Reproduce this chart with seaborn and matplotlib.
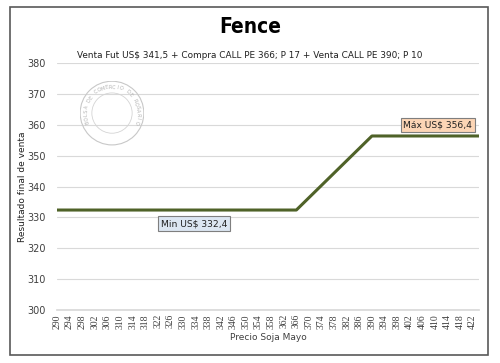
import numpy as np
import pandas as pd
import matplotlib
matplotlib.use("Agg")
import matplotlib.pyplot as plt
import seaborn as sns

sns.set_theme(style="white")
plt.rcParams['font.family'] = ['DejaVu Sans']

# data
precio = list(range(290, 426, 2))
piso = 332.4
techo = 356.4
strike_compra = 366
strike_venta = 390
resultado = [min(max(piso, piso + (p - strike_compra)), techo) for p in precio]
df = pd.DataFrame({"Precio": precio, "Resultado": resultado})
tick_labels = list(range(290, 423, 4))
y_ticks = list(range(300, 381, 10))

fig = plt.figure(figsize=(5, 3.63), dpi=100)
ax = fig.add_axes([0.114, 0.146, 0.844, 0.68])

sns.lineplot(data=df, x="Precio", y="Resultado", color="#4f6228", linewidth=2.2, ax=ax)

ax.set_ylim(300, 380)
ax.set_xlim(290, 424)
ax.set_yticks(y_ticks)
ax.set_xticks(tick_labels)
ax.set_xticklabels([str(t) for t in tick_labels], rotation=90, fontsize=7, family="Liberation Serif")
ax.tick_params(axis="y", labelsize=7, colors="#404040", length=0, pad=8)
ax.tick_params(axis="x", colors="#404040", length=0, pad=3)
ax.yaxis.grid(True, color="#d9d9d9", linewidth=0.8)
for s in ["top", "right", "left"]:
    ax.spines[s].set_visible(False)
ax.spines["bottom"].set_color("#d9d9d9")
ax.set_xlabel("Precio Soja Mayo", fontsize=6.5, color="#404040", labelpad=3)
ax.set_ylabel("Resultado final de venta", fontsize=6.5, color="#202020")
ax.yaxis.set_label_coords(-0.07, 0.5)

# annotations
ax.text(323, 328.0, "Min US$ 332,4", fontsize=6.6, color="#202020", ha="left", va="center",
        bbox=dict(boxstyle="square,pad=0.3", fc="#dce6f2", ec="#7f7f7f", lw=0.8))
ax.text(400, 359.9, "Máx US$ 356,4", fontsize=6.6, color="#202020", ha="left", va="center",
        bbox=dict(boxstyle="square,pad=0.3", fc="#fcd5b5", ec="#7f7f7f", lw=0.8))

# watermark seal
seal = fig.add_axes([0.159, 0.599, 0.13, 0.179])
seal.set_xlim(-1, 1)
seal.set_ylim(-1, 1)
seal.set_aspect("equal")
seal.axis("off")
seal.add_patch(plt.Circle((0, 0), 0.98, fill=False, ec="#c8c8c8", lw=0.8))
seal.add_patch(plt.Circle((0, 0), 0.62, fill=False, ec="#d4d4d4", lw=0.6))
txt = "BOLSA DE COMERCIO DE ROSARIO"
angs = np.linspace(200, -20, len(txt))
for ch, a in zip(txt, angs):
    r = np.deg2rad(a)
    seal.text(0.8 * np.cos(r), 0.8 * np.sin(r), ch, fontsize=3.5, color="#b0b0b0",
              ha="center", va="center", rotation=a - 90)

# titles
fig.text(0.5, 0.926, "Fence", fontsize=15, fontweight="bold", family="DejaVu Sans",
         fontstretch="condensed", ha="center", va="center", color="black")
fig.text(0.5, 0.846, "Venta Fut US$ 341,5 + Compra CALL PE 366; P 17 + Venta CALL PE 390; P 10",
         fontsize=6.4, ha="center", va="center", color="#202020")

# outer frame
fig.patches.append(plt.Rectangle((0.02, 0.022), 0.956, 0.96, transform=fig.transFigure,
                                 fill=False, ec="#595959", lw=1.2))

fig.savefig("out.png", dpi=100)
